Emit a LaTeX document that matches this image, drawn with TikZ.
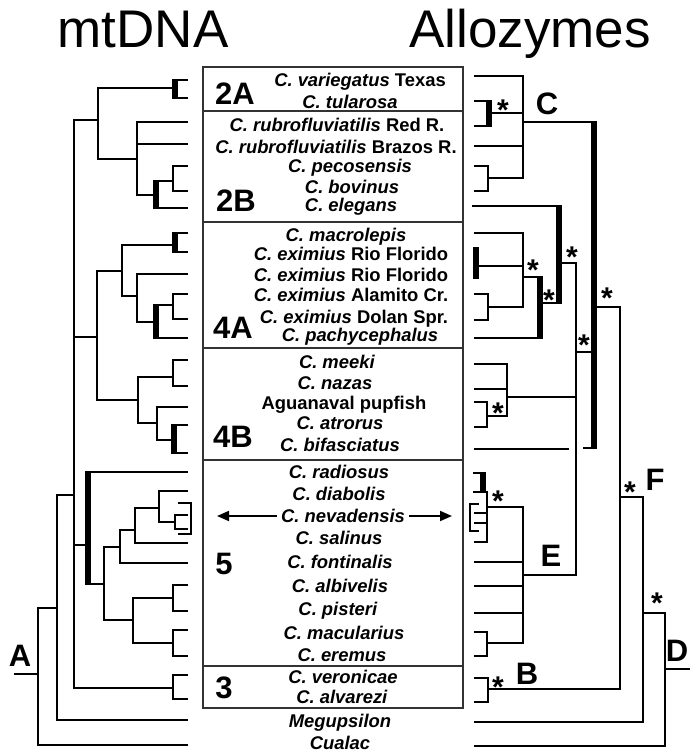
\documentclass[tikz,border=0pt]{standalone}
\usepackage{fontspec}
\setmainfont{Liberation Sans}
\usetikzlibrary{arrows.meta}
\newcommand\spn[1]{\textit{#1}}
\begin{document}
\begin{tikzpicture}[x=1pt,y=-1pt,
  br/.style={line width=2.6pt,line cap=rect},
  bb/.style={line width=6pt},
  boxl/.style={line width=1.4pt,draw=black!80},
  lab/.style={font=\fontsize{18.4}{18}\selectfont\bfseries,inner sep=0pt,text height=13pt,text depth=0pt},
  big/.style={font=\fontsize{31}{31}\selectfont\bfseries,inner sep=0pt,text height=22pt,text depth=0pt},
  ttl/.style={font=\fontsize{53}{53}\selectfont,inner sep=0pt,text height=38pt,text depth=0pt},
  ast/.style={font=\fontsize{30}{30}\selectfont\bfseries,inner sep=0pt,anchor=base},
  arr/.style={line width=1.8pt,-{Triangle[length=12pt,width=10pt]},shorten <=4pt}]
\useasboundingbox (0,0) rectangle (689,753);
% titles
\node[ttl] (tm) at (143,28) {mtDNA};
\node[ttl] (ta) at (530,28) {Allozymes};
% box
\draw[boxl] (203,67) rectangle (463,708);
\foreach \yy in {111,222,348,460,666} \draw[boxl] (203,\yy) -- (463,\yy);
% group labels
\node[big] (g2a) at (235,93) {2A};
\node[big] (g2b) at (236,200) {2B};
\node[big] (g4a) at (233,327) {4A};
\node[big] (g4b) at (233,436) {4B};
\node[big] (g5) at (224,563) {5};
\node[big] (g3) at (224,687) {3};
% taxa
\node[lab] (t01) at (360,80) {\spn{C. variegatus} Texas};
\node[lab] (t02) at (350,102) {\spn{C. tularosa}};
\node[lab] (t03) at (337,125) {\spn{C. rubrofluviatilis} Red R.};
\node[lab] (t04) at (336,147) {\spn{C. rubrofluviatilis} Brazos R.};
\node[lab] (t05) at (350,166) {\spn{C. pecosensis}};
\node[lab] (t06) at (352,187) {\spn{C. bovinus}};
\node[lab] (t07) at (351,205) {\spn{C. elegans}};
\node[lab] (t08) at (346,235) {\spn{C. macrolepis}};
\node[lab] (t09) at (351,254) {\spn{C. eximius} Rio Florido};
\node[lab] (t10) at (351,275) {\spn{C. eximius} Rio Florido};
\node[lab] (t11) at (351,295) {\spn{C. eximius} Alamito Cr.};
\node[lab] (t12) at (354,317) {\spn{C. eximius} Dolan Spr.};
\node[lab] (t13) at (360,335) {\spn{C. pachycephalus}};
\node[lab] (t14) at (337,362) {\spn{C. meeki}};
\node[lab] (t15) at (335,383) {\spn{C. nazas}};
\node[lab] (t16) at (344,403) {Aguanaval pupfish};
\node[lab] (t17) at (340,423) {\spn{C. atrorus}};
\node[lab] (t18) at (340,445) {\spn{C. bifasciatus}};
\node[lab] (t19) at (339,472) {\spn{C. radiosus}};
\node[lab] (t20) at (339,494) {\spn{C. diabolis}};
\node[lab] (nev) at (343,516) {\spn{C. nevadensis}};
\node[lab] (t22) at (339,538) {\spn{C. salinus}};
\node[lab] (t23) at (340,562) {\spn{C. fontinalis}};
\node[lab] (t24) at (340,586) {\spn{C. albivelis}};
\node[lab] (t25) at (338,609) {\spn{C. pisteri}};
\node[lab] (t26) at (344,633) {\spn{C. macularius}};
\node[lab] (t27) at (342,655) {\spn{C. eremus}};
\node[lab] (t28) at (343,677) {\spn{C. veronicae}};
\node[lab] (t29) at (342,697) {\spn{C. alvarezi}};
\node[lab] (t30) at (340,721) {\spn{Megupsilon}};
\node[lab] (t31) at (340,743) {\spn{Cualac}};
\coordinate (al) at (217,516);
\coordinate (ar) at (452,516);
\draw[arr] (nev.west) -- (al);
\draw[arr] (nev.east) -- (ar);
% ===== left tree (mtDNA)
\draw[br] (98,88) -- (174,88);
\draw[bb] (175,79) -- (175,99);
\draw[br] (175,80) -- (187,80);
\draw[br] (175,98) -- (187,98);
\draw[br] (98,88) -- (98,159) -- (137,159);
\draw[br] (187,122) -| (137,195) -- (154,195);
\draw[br] (137,144) -- (187,144);
\draw[bb] (156,180) -- (156,209);
\draw[br] (156,181) -- (173,181);
\draw[br] (187,166) -| (173,191) -- (187,191);
\draw[br] (156,208) -- (187,208);
\draw[br] (74,120) -- (98,120);
\draw[br] (122,245) -- (174,245);
\draw[bb] (175,232) -- (175,253);
\draw[br] (175,233) -- (187,233);
\draw[br] (175,252) -- (187,252);
\draw[br] (122,245) -- (122,296) -- (137,296);
\draw[br] (187,274) -| (137,322) -- (154,322);
\draw[bb] (156,304) -- (156,339);
\draw[br] (156,305) -- (173,305);
\draw[br] (187,294) -| (173,319) -- (187,319);
\draw[br] (156,338) -- (187,338);
\draw[br] (122,271) -| (97,400) -- (138,400);
\draw[br] (138,377) -- (138,423) -- (157,423);
\draw[br] (138,377) -- (173,377);
\draw[br] (187,360) -| (173,386) -- (187,386);
\draw[br] (187,407) -| (157,440) -- (172,440);
\draw[bb] (174,424) -- (174,454);
\draw[br] (174,425) -- (187,425);
\draw[br] (174,453) -- (187,453);
\draw[br] (74,337) -- (97,337);
\draw[bb] (88,471) -- (88,585);
\draw[br] (88,472) -- (187,472);
\draw[br] (88,584) -- (104,584);
\draw[br] (120,547) -| (104,620) -- (133,620);
\draw[br] (135,530) -| (120,563) -- (187,563);
\draw[br] (159,508) -| (135,543) -- (187,543);
\draw[br] (187,491) -| (159,522) -- (175,522);
\draw[br] (187,515) -| (175,529) -- (187,529);
\draw[br] (179,503) -| (191,534) -- (179,534);
\draw[br] (173,598) -| (133,643) -- (173,643);
\draw[br] (187,585) -| (173,611) -- (187,611);
\draw[br] (187,630) -| (173,656) -- (187,656);
\draw[br] (74,545) -- (88,545);
\draw[br] (74,688) -- (173,688);
\draw[br] (187,675) -| (173,699) -- (187,699);
\draw[br] (74,120) -- (74,688);
\draw[br] (74,495) -| (57,720) -- (187,720);
\draw[br] (57,608) -| (38,745) -- (187,745);
\draw[br] (15,674) -- (38,674);
\node[big] (lA) at (20,655) {A};
% ===== right tree (allozymes)
\draw[br] (475,76) -| (523,178) -- (488,178);
\draw[br] (475,166) -| (488,191) -- (475,191);
\draw[br] (475,146) -- (523,146);
\draw[bb] (489,100) -- (489,127);
\draw[br] (475,101) -- (489,101);
\draw[br] (475,126) -- (489,126);
\draw[br] (489,113) -- (523,113);
\draw[br] (523,122) -- (594,122);
\draw[bb] (594,121) -- (594,449);
\draw[br] (584,448) -- (594,448);
\draw[br] (475,449) -- (568,449);
\draw[br] (475,233) -| (523,307) -- (488,307);
\draw[br] (475,294) -| (488,320) -- (475,320);
\draw[bb] (476,247) -- (476,279);
\draw[br] (476,266) -- (523,266);
\draw[br] (523,277) -- (540,277);
\draw[bb] (540,276) -- (540,339);
\draw[br] (475,338) -- (540,338);
\draw[br] (540,303) -- (559,303);
\draw[bb] (559,205) -- (559,304);
\draw[br] (473,206) -- (559,206);
\draw[br] (559,263) -| (576,575) -- (523,575);
\draw[br] (576,352) -- (594,352);
\draw[br] (475,364) -| (507,416) -- (487,416);
\draw[br] (475,389) -- (507,389);
\draw[br] (475,402) -| (487,427) -- (475,427);
\draw[br] (507,397) -- (576,397);
\draw[br] (487,507) -| (523,643) -- (487,643);
\draw[br] (475,632) -| (487,656) -- (475,656);
\draw[br] (475,562) -- (523,562);
\draw[br] (475,586) -- (523,586);
\draw[br] (475,613) -- (523,613);
\draw[br] (487,492) -- (487,542) -- (475,542);
\draw[bb] (483,472) -- (483,493);
\draw[br] (474,473) -- (483,473);
\draw[br] (474,492) -- (487,492);
\draw[br] (475,513) -- (487,513);
\draw[br] (475,523) -- (487,523);
\draw[br] (478,504) -| (470,531) -- (478,531);
\draw[br] (475,678) -| (488,702) -- (475,702);
\draw[br] (488,689) -| (620,307) -- (594,307);
\draw[br] (620,497) -- (643,497);
\draw[br] (643,497) -- (643,722) -- (475,722);
\draw[br] (643,613) -| (665,746) -- (475,746);
\draw[br] (665,669) -- (689,669);
\node[big] (lC) at (547,103) {C};
\node[big] (lE) at (551,555) {E};
\node[big] (lB) at (527,673) {B};
\node[big] (lF) at (655,479) {F};
\node[big] (lD) at (677,650) {D};
% asterisks
\foreach \xx/\yy [count=\i] in {503/105,533/265,572/252,549/295,607/293,584/340,498/408,630/487,498/496,498/682,657/598}
  \node[ast] (s\i) at (\xx,\yy+15.5) {*};
\end{tikzpicture}
\end{document}
